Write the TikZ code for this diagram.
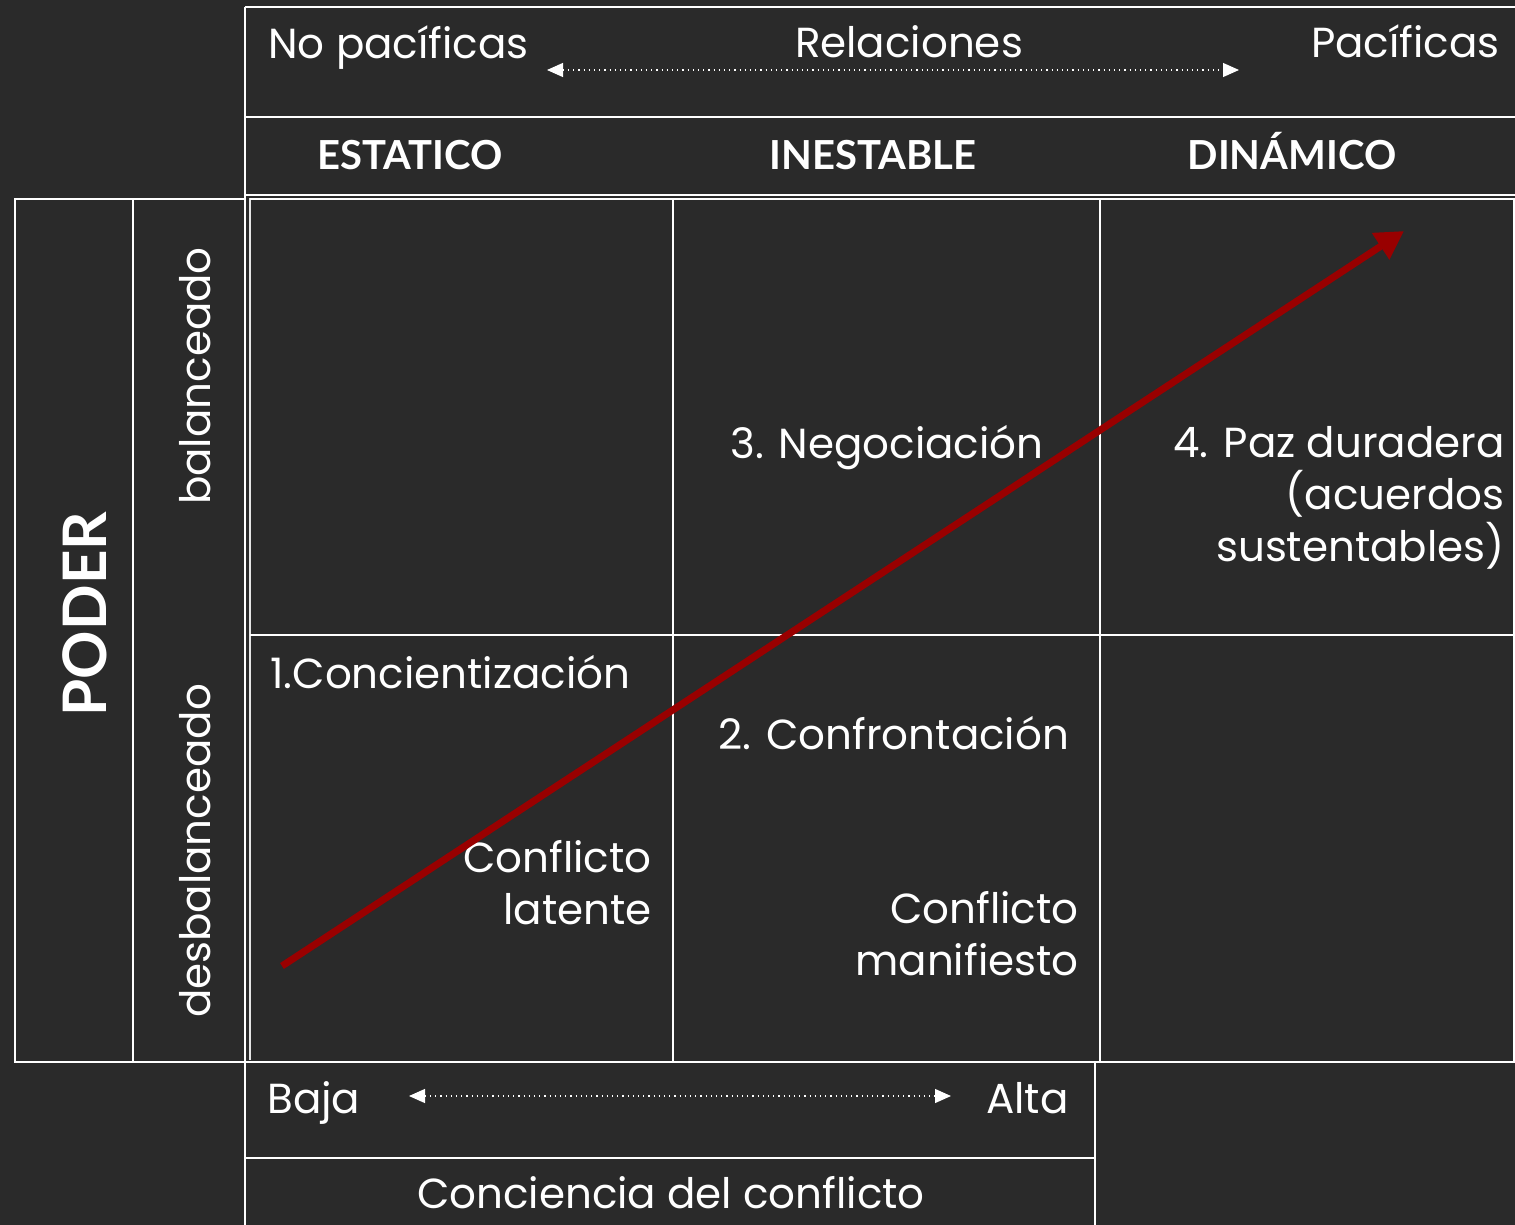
\documentclass[tikz,border=0pt]{standalone}
\usepackage{fontspec}
\setmainfont{Poppins}
\newfontfamily\hdr{Lato}
\usetikzlibrary{arrows.meta}
\definecolor{bg}{HTML}{2A2A2A}
\definecolor{arrowred}{HTML}{990000}
\begin{document}
\begin{tikzpicture}[x=0.5pt,y=-0.5pt,
  gridline/.style={draw=white, line width=1.3pt},
  thinline/.style={draw=white!80!gray, line width=0.8pt},
  txt/.style={text=white, font=\fontsize{21}{26}\selectfont, inner sep=0pt},
  hd/.style={text=white, font=\hdr\bfseries\fontsize{20}{24}\selectfont, inner sep=0pt},
  dotarrow/.style={draw=white, dotted, line width=0.6pt,
    {Triangle[width=7pt,length=8pt]}-{Triangle[width=7pt,length=8pt]}},
  redarrow/.style={draw=arrowred, line width=3.5pt, -{Triangle[width=15pt,length=14pt]}},
]
\fill[bg] (0,0) rectangle (1515,1225);
\useasboundingbox (0,0) rectangle (1515,1225);

% top header
\draw[gridline] (245,7) -- (1515,7);
\draw[gridline] (245,117) -- (1515,117);
\draw[gridline] (245,195) -- (1515,195);
\draw[gridline] (245,7) -- (245,1225);

% main grid
\draw[thinline] (250,198) -- (250,1060);
\draw[gridline] (250,199) -- (1515,199);
\draw[gridline] (250,635) -- (1515,635);
\draw[gridline] (245,1062) -- (1515,1062);
\draw[gridline] (673,199) -- (673,1062);
\draw[gridline] (1100,199) -- (1100,1062);
\draw[gridline] (1514,199) -- (1514,1062);

% left box
\draw[gridline] (15,199) rectangle (245,1062);
\draw[gridline] (133,199) -- (133,1062);

% bottom box
\draw[gridline] (245,1158) -- (1095,1158);
\draw[gridline] (1095,1062) -- (1095,1225);

% header texts
\node[txt, anchor=base west] (nopac) at (268,59) {No pacíficas};
\node[txt, anchor=base] (rel) at (909,58) {Relaciones};
\node[txt, anchor=base east] (pac) at (1500,58) {Pacíficas};
\coordinate (relL) at (547,70);
\coordinate (relR) at (1239,70);
\draw[dotarrow] (relL) -- (relR);

\node[hd, anchor=base] (est) at (410,170) {ESTATICO};
\node[hd, anchor=base] (ine) at (873,170) {INESTABLE};
\node[hd, anchor=base] (din) at (1292,170) {DINÁMICO};

% left labels
\node[txt, anchor=base, rotate=90] (bal) at (210,376) {balanceado};
\node[txt, anchor=base, rotate=90] (desbal) at (210,851) {desbalanceado};
\node[hd, anchor=base, rotate=90, font=\hdr\bfseries\fontsize{30}{34}\selectfont] (poder) at (106,614) {PODER};

% cells
\node[txt, anchor=base west] (neg) at (730,458) {3. Negociación};
\node[txt, anchor=base east] (paz1) at (1505,457) {4. Paz duradera};
\node[txt, anchor=base east] (paz2) at (1505,509) {(acuerdos};
\node[txt, anchor=base east] (paz3) at (1505,561) {sustentables)};
\node[txt, anchor=base west] (conc) at (270,688) {1.Concientización};
\node[txt, anchor=base west] (conf) at (718,749) {2. Confrontación};
\node[txt, anchor=base east] (lat1) at (652,872) {Conflicto};
\node[txt, anchor=base east] (lat2) at (652,924) {latente};
\node[txt, anchor=base east] (man1) at (1079,923) {Conflicto};
\node[txt, anchor=base east] (man2) at (1079,975) {manifiesto};

% bottom texts
\node[txt, anchor=base west] (baja) at (267,1113) {Baja};
\node[txt, anchor=base east] (alta) at (1069,1113) {Alta};
\coordinate (cL) at (409,1096);
\coordinate (cR) at (951,1096);
\draw[dotarrow] (cL) -- (cR);
\node[txt, anchor=base] (concon) at (671,1208) {Conciencia del conflicto};

% red arrow
\coordinate (rs) at (282,966);
\coordinate (re) at (1404,231);
\draw[redarrow] (rs) -- (re);
\end{tikzpicture}
\end{document}
